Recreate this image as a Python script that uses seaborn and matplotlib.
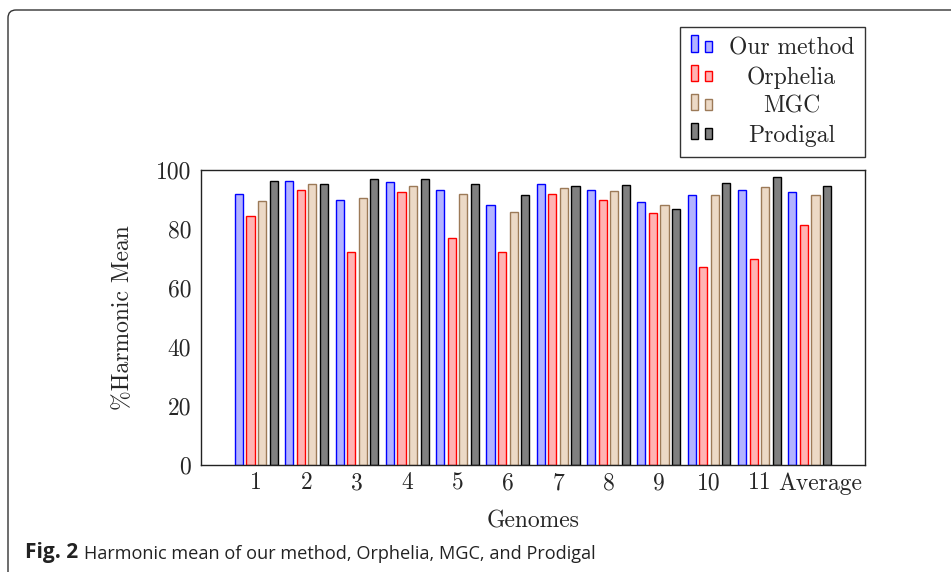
import pandas as pd
import matplotlib
matplotlib.use("Agg")
from matplotlib import pyplot as plt
from matplotlib.patches import Rectangle, FancyBboxPatch
from matplotlib.transforms import IdentityTransform, ScaledTranslation
from matplotlib.legend_handler import HandlerBase
import seaborn as sns

# values
genomes = ['1', '2', '3', '4', '5', '6', '7', '8', '9', '10', '11', 'Average']
methods = ['Our method', 'Orphelia', 'MGC', 'Prodigal']
our_method = [91.8, 96.2, 89.6, 95.8, 93.0, 87.9, 95.0, 93.0, 89.0, 91.4, 93.2, 92.3]
orphelia = [84.5, 93.0, 72.3, 92.4, 77.0, 72.0, 91.8, 89.7, 85.2, 67.2, 69.8, 81.2]
mgc = [89.5, 95.0, 90.4, 94.6, 91.9, 85.8, 93.8, 92.8, 88.2, 91.4, 94.1, 91.6]
prodigal = [96.2, 95.3, 96.7, 96.9, 95.3, 91.3, 94.4, 94.8, 86.8, 95.5, 97.4, 94.6]

fills = ['#b3b3ff', '#ffb3b3', '#ecd9c6', '#808080']
edges = ['#0000ff', '#ff0000', '#9c7a58', '#000000']

df = pd.DataFrame({
    'Genome': genomes * 4,
    'Method': [m for m in methods for _ in genomes],
    'Value': our_method + orphelia + mgc + prodigal,
})

sns.set_theme(style='white')
plt.rcParams['font.family'] = ['cmr10', 'DejaVu Serif']
plt.rcParams['axes.unicode_minus'] = False
plt.rcParams['mathtext.fontset'] = 'cm'

fs = 17

fig = plt.figure(figsize=(9.51, 5.72), dpi=100)
ax = fig.add_axes([201 / 951, 1 - 465.3 / 572, 664 / 951, 295.6 / 572])

sns.barplot(data=df, x='Genome', y='Value', hue='Method', order=genomes,
            hue_order=methods, palette=fills, saturation=1, width=0.92,
            gap=0.3, linewidth=1.0, legend=False, ax=ax)
for cont, ec in zip(ax.containers, edges):
    for bar in cont:
        bar.set_edgecolor(ec)

ax.set_ylim(0, 100)
ax.set_xlim(-1.1, 12.1)
ax.set_yticks([0, 20, 40, 60, 80, 100])
ax.tick_params(axis='x', length=0, labelsize=fs, pad=5)
ax.tick_params(axis='y', length=0, labelsize=fs, pad=7)
ax.set_xlabel('Genomes', fontsize=fs, labelpad=11)
ax.set_ylabel('%Harmonic Mean', fontsize=fs, labelpad=16)
for s in ax.spines.values():
    s.set_color('#222222')
    s.set_linewidth(1.0)

# the "Average" label sits a little right of its group in the original
avg_label = ax.get_xticklabels()[-1]
avg_label.set_transform(avg_label.get_transform() +
                        ScaledTranslation(0.11, 0, fig.dpi_scale_trans))


class TwoBars(HandlerBase):
    def create_artists(self, legend, orig_handle, xdescent, ydescent,
                       width, height, fontsize, trans):
        w = width * 0.34
        fc = orig_handle.get_facecolor()
        ec = orig_handle.get_edgecolor()
        big = Rectangle((-xdescent, -ydescent + 0.15 * height), w, height,
                        facecolor=fc, edgecolor=ec, lw=1.0, transform=trans)
        small = Rectangle((-xdescent + width - w, -ydescent + 0.15 * height), w,
                          height * 0.65, facecolor=fc, edgecolor=ec, lw=1.0,
                          transform=trans)
        return [big, small]


handles = [Rectangle((0, 0), 1, 1, facecolor=f, edgecolor=e) for f, e in zip(fills, edges)]
leg = ax.legend(handles, methods, handler_map={Rectangle: TwoBars()},
                loc='upper right', bbox_to_anchor=(1.0, 1.484), borderaxespad=0,
                fontsize=fs, frameon=True, fancybox=False, edgecolor='black',
                handlelength=0.9, handletextpad=0.7, labelspacing=0.29,
                borderpad=0.45)
leg.get_frame().set_linewidth(1.0)

# figure box of the paper page
frame = FancyBboxPatch((8, -60), 2000, 572 - 10 + 60,
                       boxstyle='round,pad=0,rounding_size=8',
                       transform=IdentityTransform(), facecolor='none',
                       edgecolor='#333333', lw=1.0)
fig.patches.append(frame)

cap = fig.text(25 / 951, 1 - 558 / 572, 'Fig. 2', fontsize=15,
               fontweight='bold', family='Open Sans', va='baseline', color='#222222')
ax.annotate('Harmonic mean of our method, Orphelia, MGC, and Prodigal',
            xy=(1, 0), xycoords=cap, xytext=(4.5, 0), textcoords='offset points',
            fontsize=13.1, family='Open Sans', va='bottom', color='#222222',
            annotation_clip=False)

# centre the legend labels like the original
fig.canvas.draw()
texts = leg.get_texts()
widths = [t.get_window_extent().width for t in texts]
for t, w in zip(texts, widths):
    t.set_x((max(widths) - w) / 2)

fig.savefig('out.png', dpi=100)
